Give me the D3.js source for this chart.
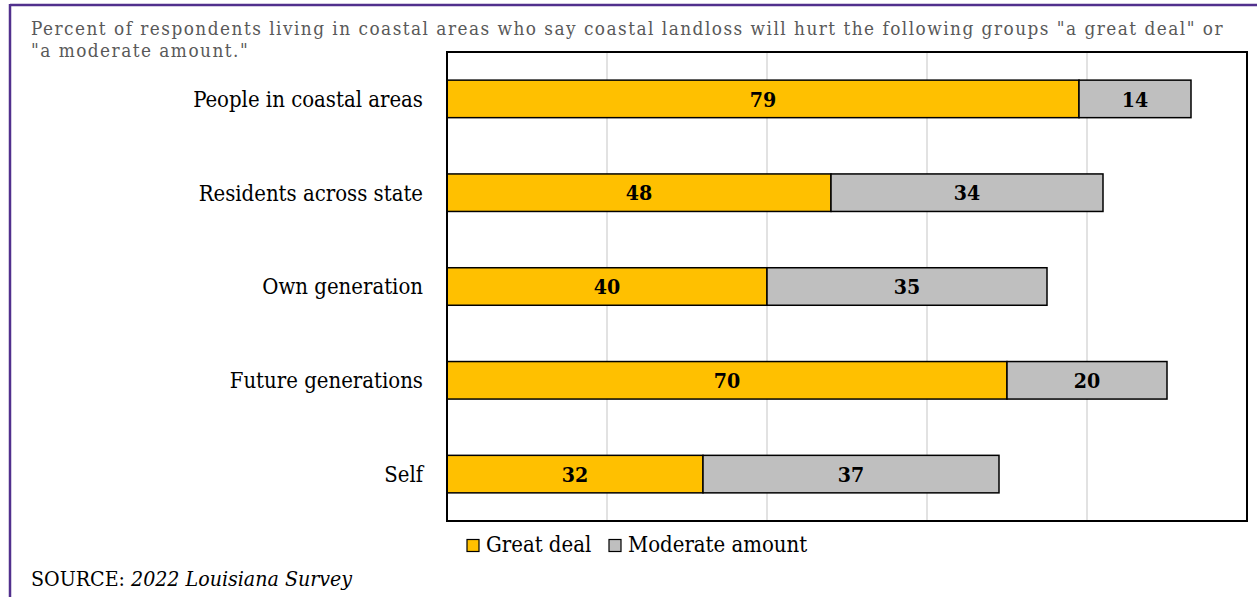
<!DOCTYPE html>
<html>
<head>
<meta charset="utf-8">
<script src="https://cdn.jsdelivr.net/npm/d3@7/dist/d3.min.js"></script>
<style>
  html, body { margin: 0; padding: 0; background: #fff; }
  svg { display: block; }
  text { font-family: "DejaVu Serif Condensed", "DejaVu Serif", "Liberation Serif", serif; }
</style>
</head>
<body>
<svg id="chart" width="1257" height="597"></svg>
<script>
const categories = ["People in coastal areas", "Residents across state", "Own generation", "Future generations", "Self"];
const greatDeal = [79, 48, 40, 70, 32];
const moderateAmount = [14, 34, 35, 20, 37];
const seriesNames = ["Great deal", "Moderate amount"];
const xTicks = [0, 20, 40, 60, 80, 100];
const titleLines = ["Percent of respondents living in coastal areas who say coastal landloss will hurt the following groups \"a great deal\" or", "\"a moderate amount.\""];
const sourceLabel = "SOURCE: ";
const sourceName = "2022 Louisiana Survey";

const colors = ["#FFC000", "#BFBFBF"];
const svg = d3.select("#chart");
const W = 1257, H = 597;
const plot = { left: 447, right: 1247, top: 52, bottom: 521 };

// fit a text's font-size so that it spans a target width
const fitSize = (sel, target) => {
  const w = sel.node().getComputedTextLength();
  const fs = parseFloat(sel.attr("font-size"));
  const n = fs * target / w;
  sel.attr("font-size", n.toFixed(2));
  return n;
};

// frame
svg.append("line").attr("x1", 10).attr("x2", W).attr("y1", 5).attr("y2", 5)
  .attr("stroke", "#51308d").attr("stroke-width", 2.5);
svg.append("line").attr("x1", 10).attr("x2", 10).attr("y1", 4).attr("y2", H)
  .attr("stroke", "#51308d").attr("stroke-width", 2.5);

// title (two lines; slight letter-spacing widens the first line to its reference span)
const fsTitle = 18.8;
const t1 = svg.append("text").attr("x", 31).attr("y", 35).attr("font-size", fsTitle)
  .attr("fill", "#595959").text(titleLines[0]);
const nat = t1.node().getComputedTextLength();
const ls = Math.max(0, (1193 - nat) / titleLines[0].length);
t1.attr("letter-spacing", ls.toFixed(3));
svg.append("text").attr("x", 31).attr("y", 57).attr("font-size", fsTitle)
  .attr("letter-spacing", ls.toFixed(3))
  .attr("fill", "#595959").text(titleLines[1]);

const x = d3.scaleLinear().domain([0, 100]).range([plot.left, plot.right]);
const y = d3.scaleBand().domain(categories).range([plot.top, plot.bottom]).paddingInner(0.6).paddingOuter(0.3);

// gridlines
svg.append("g").selectAll("line").data(xTicks.slice(1, -1)).join("line")
  .attr("x1", d => x(d)).attr("x2", d => x(d))
  .attr("y1", plot.top).attr("y2", plot.bottom)
  .attr("stroke", "#D9D9D9").attr("stroke-width", 1.5);

// bars
const data = categories.map((c, i) => ({ cat: c, vals: [greatDeal[i], moderateAmount[i]] }));
const segs = [];
data.forEach(d => {
  let acc = 0;
  d.vals.forEach((v, k) => { segs.push({ cat: d.cat, k, v, x0: acc, x1: acc + v }); acc += v; });
});
const g = svg.append("g");
g.selectAll("rect").data(segs).join("rect")
  .attr("x", d => x(d.x0)).attr("width", d => x(d.x1) - x(d.x0))
  .attr("y", d => y(d.cat)).attr("height", y.bandwidth())
  .attr("fill", d => colors[d.k]).attr("stroke", "#000").attr("stroke-width", 1.5);
const vl = g.selectAll("text").data(segs).join("text")
  .attr("x", d => (x(d.x0) + x(d.x1)) / 2).attr("y", d => y(d.cat) + y.bandwidth() / 2)
  .attr("dy", "0.36em").attr("text-anchor", "middle")
  .attr("font-size", 17).attr("font-weight", "bold").attr("fill", "#000")
  .text(d => d.v);
const fsVal = fitSize(vl.filter((d, i) => i === segs.length - 2), 26.5);
vl.attr("font-size", fsVal.toFixed(2));

// plot border
svg.append("rect").attr("x", plot.left).attr("y", plot.top)
  .attr("width", plot.right - plot.left).attr("height", plot.bottom - plot.top)
  .attr("fill", "none").attr("stroke", "#000").attr("stroke-width", 2);

// category axis labels
const yAxis = d3.axisLeft(y).tickSize(0).tickPadding(24);
const ya = svg.append("g").attr("transform", `translate(${plot.left},0)`).call(yAxis);
ya.select(".domain").remove();
const yl = ya.selectAll("text").attr("font-size", 17).attr("fill", "#000")
  .attr("font-family", "DejaVu Serif Condensed, DejaVu Serif, Liberation Serif, serif").attr("dy", "0.36em");
const fsCat = fitSize(yl.filter((d, i) => i === 0), 230);
yl.attr("font-size", fsCat.toFixed(2));

// legend
const leg = svg.append("g");
const legX = [467, 609];
seriesNames.forEach((n, i) => {
  leg.append("rect").attr("x", legX[i]).attr("y", 539.5).attr("width", 12).attr("height", 12)
    .attr("fill", colors[i]).attr("stroke", "#000").attr("stroke-width", 1.2);
  leg.append("text").attr("x", legX[i] + 19).attr("y", 552).attr("font-size", fsCat)
    .attr("fill", "#000").text(n);
});

// source
const src = svg.append("text").attr("x", 31).attr("y", 586).attr("font-size", fsCat).attr("fill", "#000");
src.append("tspan").text(sourceLabel);
src.append("tspan").attr("font-style", "italic").text(sourceName);
fitSize(src, 321);
</script>
</body>
</html>
